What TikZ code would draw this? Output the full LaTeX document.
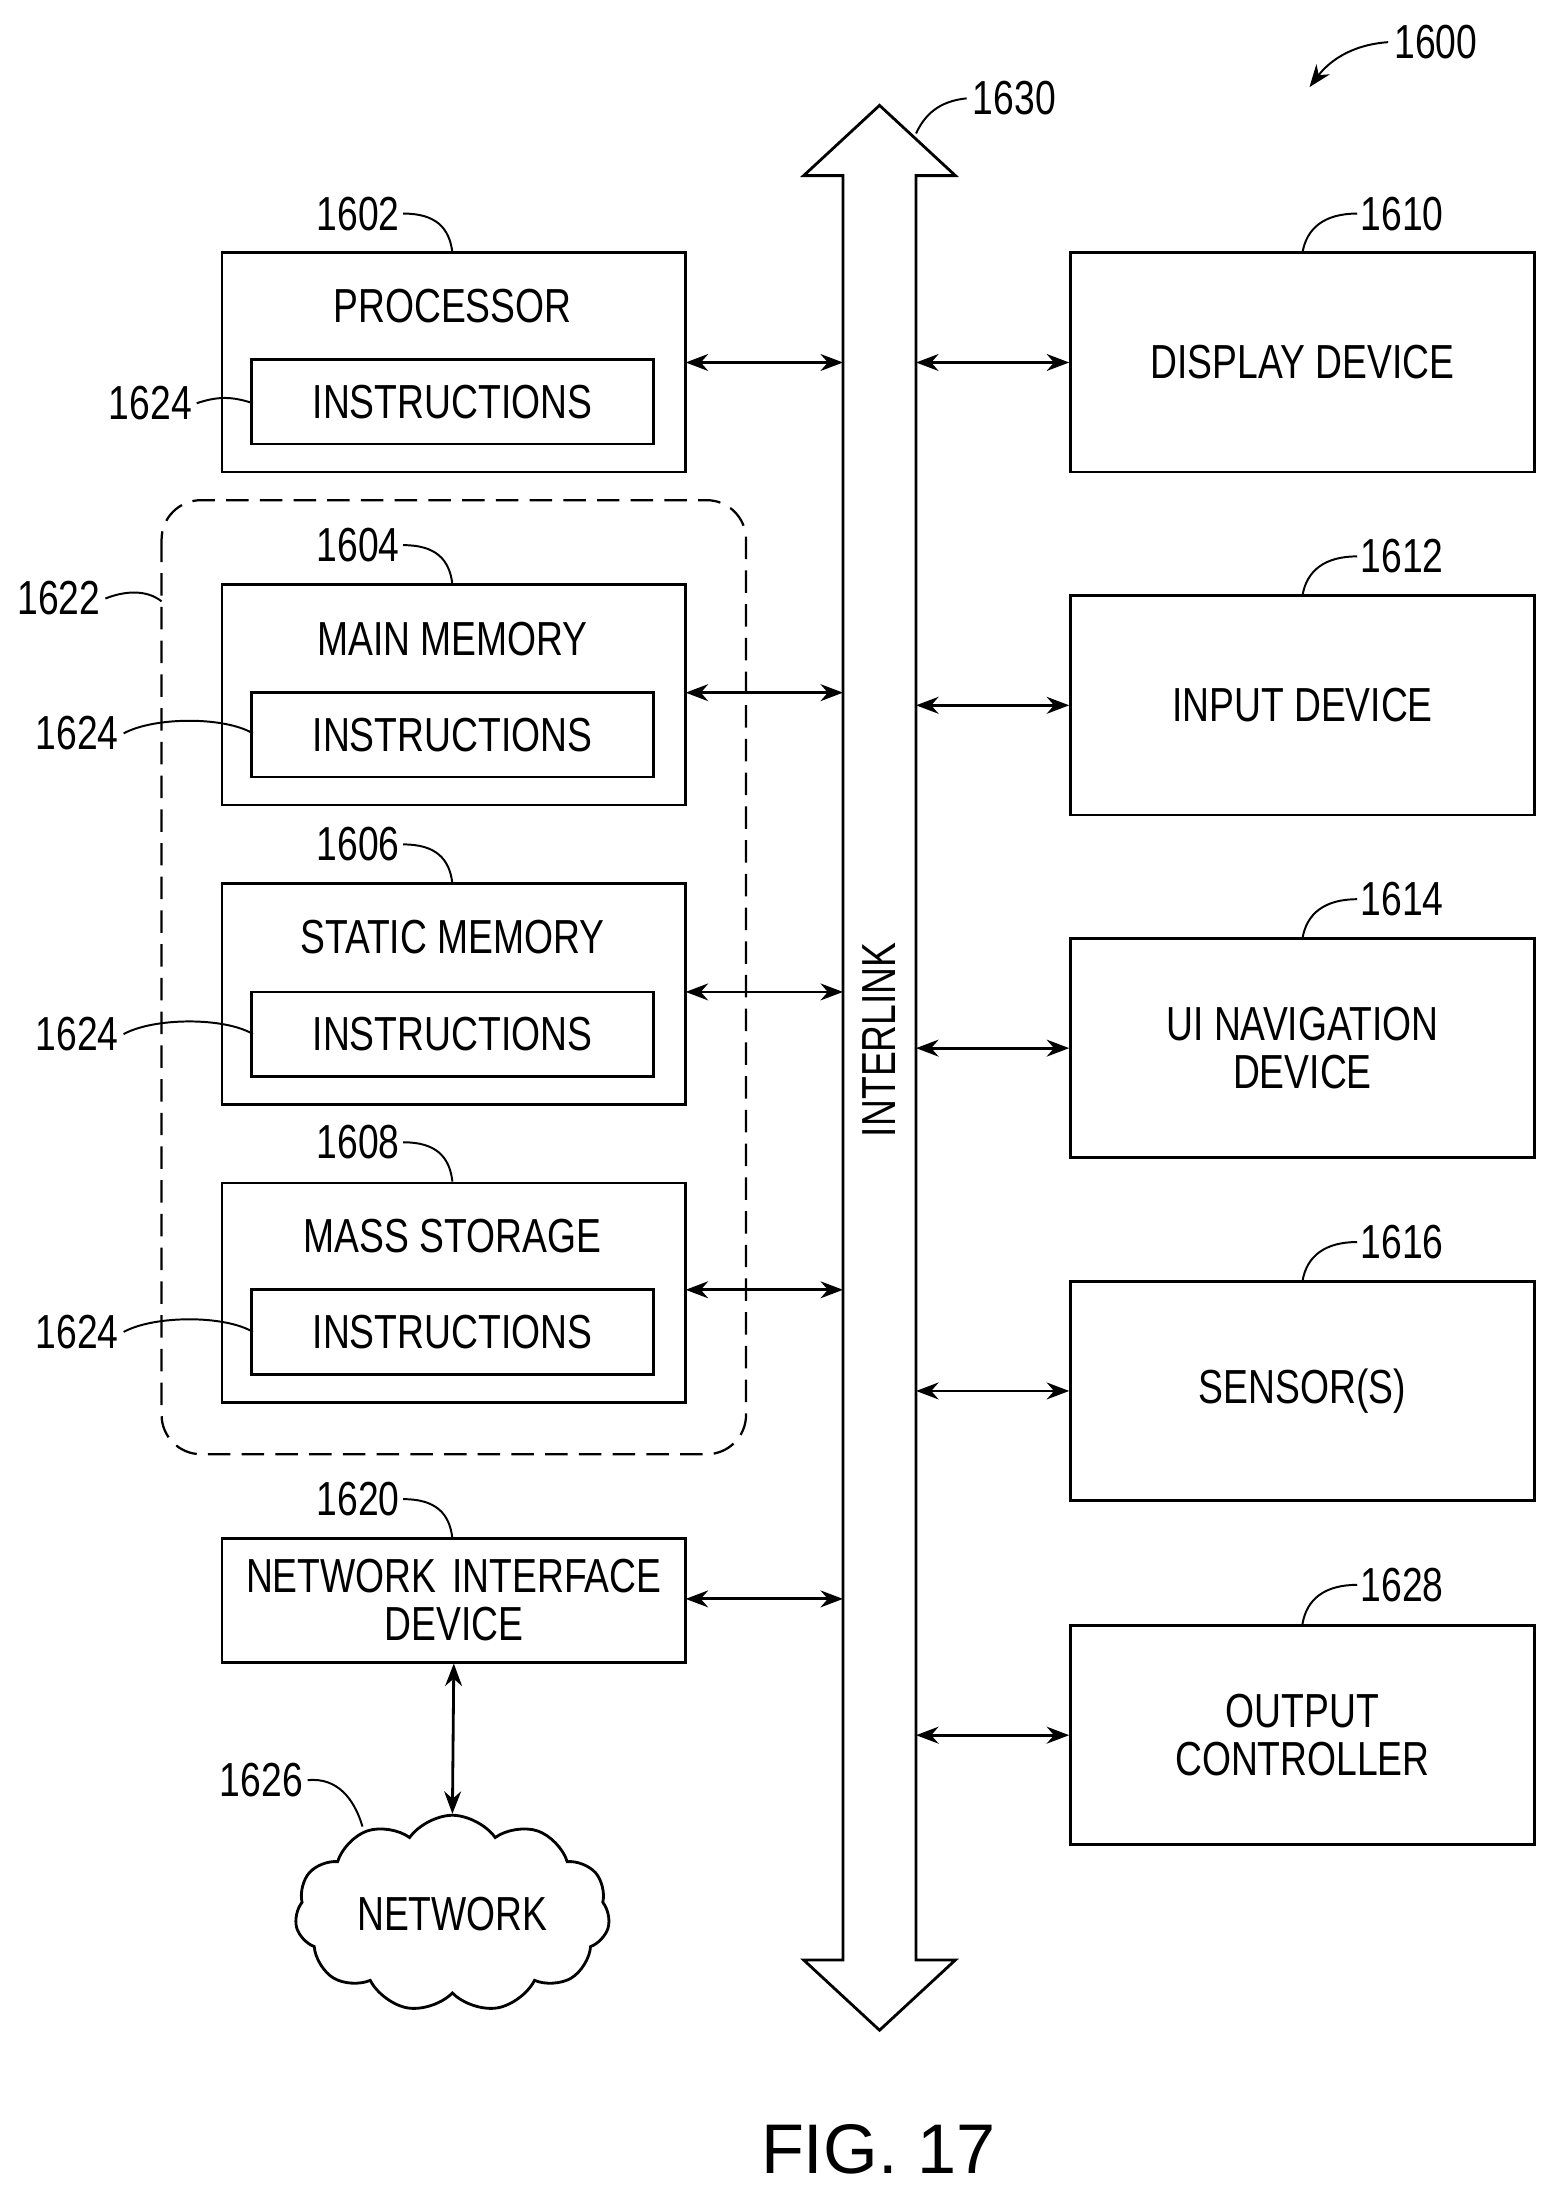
\documentclass[tikz,border=0pt]{standalone}
\usepackage{fontspec}
\setmainfont{Liberation Sans}[FakeStretch=0.78]
\newfontfamily\figfont{Liberation Sans}
\usetikzlibrary{shapes.symbols,arrows.meta}
\tikzset{
  blk/.style={draw,line width=1pt,minimum width=165pt,inner sep=0pt,align=center},
  ins/.style={draw,line width=1pt,minimum width=143pt,minimum height=30pt,inner sep=0pt},
  link/.style={line width=1pt,{Stealth[length=8pt,width=6pt]}-{Stealth[length=8pt,width=6pt]}},
  lead/.style={line width=0.7pt},
  num/.style={inner sep=1pt}
}
\begin{document}
\begin{tikzpicture}[x=0.5pt,y=-0.5pt,font=\fontsize{17}{17}\selectfont]
\useasboundingbox (0,0) rectangle (1105,1563);

%bus
\draw[line width=1pt] (626,75) -- (680,125) -- (652,125) -- (652,1395) -- (680,1395) -- (626,1445) -- (572,1395) -- (600,1395) -- (600,125) -- (572,125) -- cycle;
\node[rotate=90] (bus) at (626,740) {INTERLINK};
\coordinate (busL) at (600,0);
\coordinate (busR) at (652,0);

%memory group
\draw[line width=0.8pt,dash pattern=on 8pt off 4pt,rounded corners=14pt] (115,356) rectangle (531,1035);

%left blocks
\draw[line width=1pt] (158,180) rectangle (488,336);
\node (proc) at (322,218) {PROCESSOR};
\node[ins] (ins1) at (322,286) {INSTRUCTIONS};
\draw[line width=1pt] (158,416) rectangle (488,573);
\node (mmem) at (322,455) {MAIN MEMORY};
\node[ins] (ins2) at (322,523) {INSTRUCTIONS};
\draw[line width=1pt] (158,629) rectangle (488,786);
\node (smem) at (322,667) {STATIC MEMORY};
\node[ins] (ins3) at (322,736) {INSTRUCTIONS};
\draw[line width=1pt] (158,842) rectangle (488,998);
\node (mass) at (322,880) {MASS STORAGE};
\node[ins] (ins4) at (322,948) {INSTRUCTIONS};
\node[blk,minimum height=44pt,text width=160pt] (nic) at (323,1139) {NETWORK INTERFACE\\DEVICE};
\node[cloud,draw,line width=1pt,cloud puffs=11,cloud puff arc=110,aspect=1.9,minimum width=112pt,minimum height=70pt] (net) at (322,1362) {NETWORK};

%right blocks
\foreach \n/\y/\t in {disp/258/{DISPLAY DEVICE},inp/502/{INPUT DEVICE},ui/746/{UI NAVIGATION\\DEVICE},sens/990/{SENSOR(S)},outc/1235/{OUTPUT\\CONTROLLER}}
  \node[blk,minimum height=78pt] (\n) at (927,\y) {\t};

%links
\foreach \y in {258,493,706,918,1138}
  \draw[link] (488,\y) -- (busL |- 0,\y);
\foreach \n in {disp,inp,ui,sens,outc}
  \draw[link] (busR |- \n.west) -- (\n.west);
\draw[link] (nic.south) -- (net.north);

%reference numbers
\foreach \x/\y/\t in {255/152/1602,255/388/1604,255/601/1606,255/813/1608,255/1067/1620}{
  \node[num] at (\x,\y) {\t};
  \draw[lead] (\x+32,\y) .. controls (\x+55,\y) and (\x+65,\y+10) .. (\x+67,\y+28);}
\foreach \x/\y/\t in {998/152/1610,998/396/1612,998/640/1614,998/884/1616,998/1128/1628}{
  \node[num] at (\x,\y) {\t};
  \draw[lead] (\x-32,\y) .. controls (\x-55,\y) and (\x-68,\y+10) .. (\x-71,\y+28);}
\node[num] at (107,287) {1624};
\draw[lead] (140,287) .. controls (155,282) and (165,282) .. (180,287);
\foreach \y in {522,736,948}{
  \node[num] at (55,\y) {1624};
  \draw[lead] (88,\y) .. controls (110,\y-12) and (160,\y-12) .. (180,\y);}
\node[num] at (42,426) {1622};
\draw[lead] (75,426) .. controls (90,420) and (105,420) .. (115,428);
\node[num] at (186,1267) {1626};
\draw[lead] (219,1267) .. controls (240,1265) and (252,1280) .. (258,1300);
\node[num] at (722,70) {1630};
\draw[lead] (688,70) .. controls (668,72) and (658,82) .. (652,95);
\node[num] at (1022,30) {1600};
\draw[lead,-{Stealth[length=8pt,width=6pt]}] (988,30) .. controls (960,32) and (945,45) .. (932,62);

\node[font=\figfont\fontsize{25}{26}\selectfont] (fig) at (625,1530) {FIG. 17};
\end{tikzpicture}
\end{document}
